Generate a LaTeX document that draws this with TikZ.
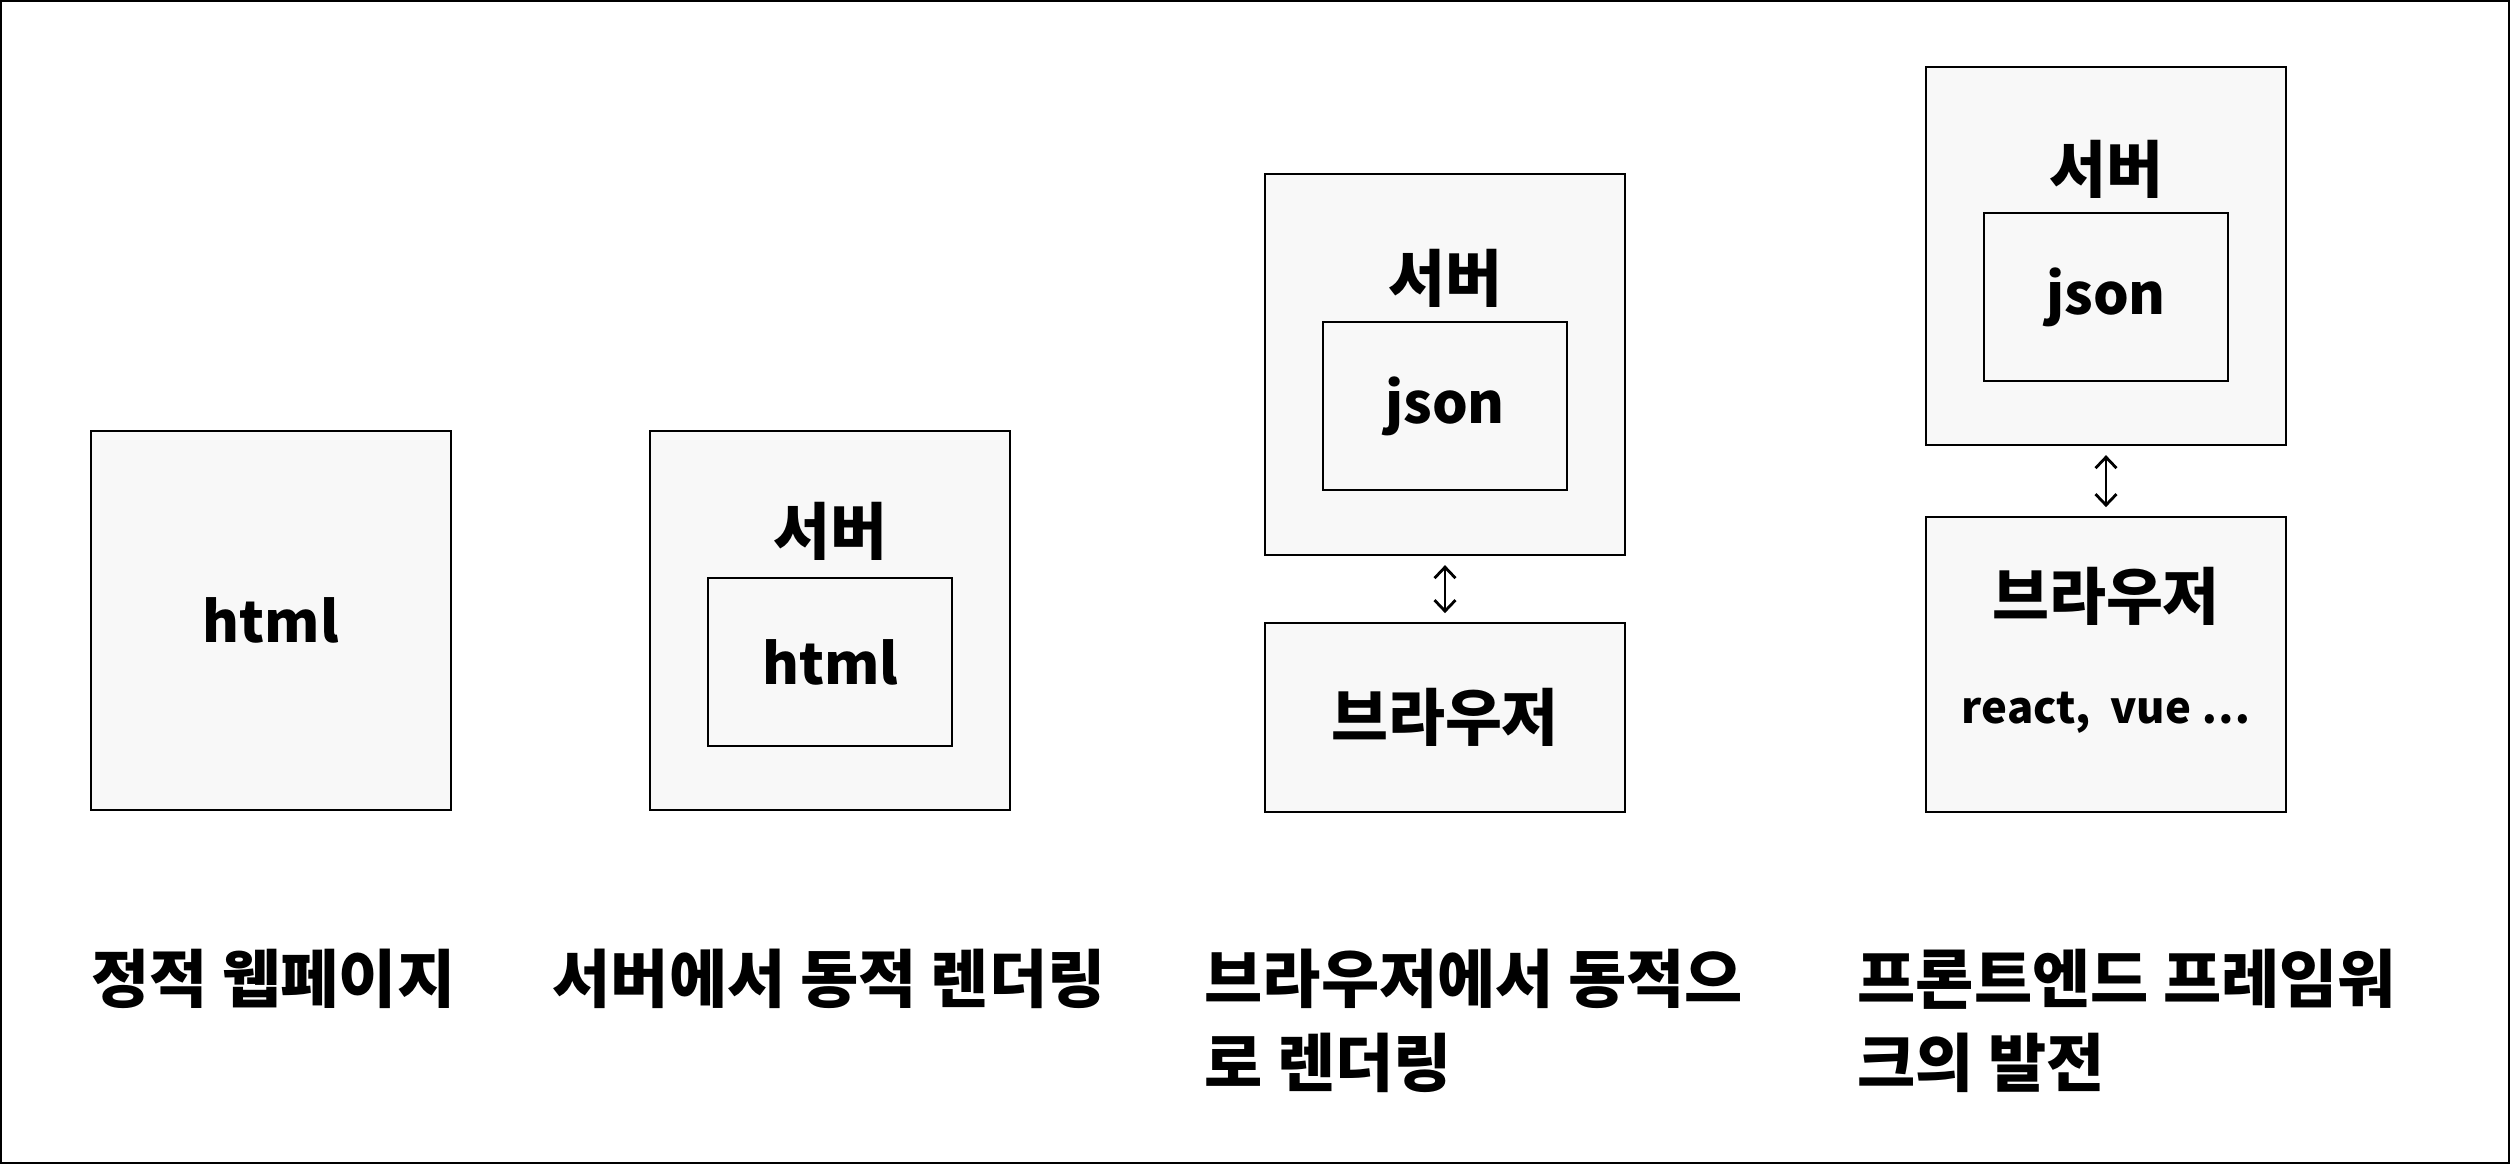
\documentclass[tikz,border=0pt]{standalone}
\usepackage{fontspec}
\setmainfont{Noto Sans CJK KR}
\usetikzlibrary{arrows.meta,positioning}
\definecolor{boxgray}{HTML}{F8F8F8}

\begin{document}
\begin{tikzpicture}[
    font=\bfseries\fontsize{16}{20}\selectfont,
    box/.style={draw=black, line width=0.65pt, fill=boxgray, minimum width=3.6cm, inner sep=0pt},
    inner/.style={box, minimum width=2.44cm, minimum height=1.68cm},
    kor/.style={inner sep=0pt, font=\bfseries\fontsize{17.6}{20}\selectfont},
    caption/.style={anchor=north west, inner sep=0pt, align=left,
      font=\bfseries\fontsize{18}{24}\selectfont},
    small/.style={inner sep=0pt, font=\bfseries\fontsize{12.4}{15}\selectfont},
    arrow/.style={{Straight Barb[length=1.1mm,width=2.1mm]}-{Straight Barb[length=1.1mm,width=2.1mm]},
      line width=0.8pt, shorten <=0.09cm, shorten >=0.09cm}
  ]
    \useasboundingbox (0,0) rectangle (25.1,-11.64);
    \draw[line width=0.65pt] (0.01,-0.01) rectangle (25.09,-11.63);

    \node[box, minimum height=3.79cm] (page) at (2.71,-6.205) {html};

    \node[box, minimum height=3.79cm, right=1.97cm of page] (srvA) {};
    \node[inner, above=0.64cm of srvA.south] (htmlA) {html};
    \node[kor] (srvAlbl) at ([yshift=-1.02cm]srvA.north) {서버};

    \node[box, minimum height=3.81cm] (srvB) at (14.45,-3.645) {};
    \node[inner, above=0.65cm of srvB.south] (jsonB) {json};
    \node[kor] (srvBlbl) at ([yshift=-1.06cm]srvB.north) {서버};
    \node[box, minimum height=1.89cm, below=0.66cm of srvB,
      font=\bfseries\fontsize{17.6}{20}\selectfont] (brwB) {브라우저};

    \node[box, minimum height=3.78cm] (srvC) at (21.06,-2.56) {};
    \node[inner, above=0.64cm of srvC.south] (jsonC) {json};
    \node[kor] (srvClbl) at ([yshift=-1.04cm]srvC.north) {서버};
    \node[box, minimum height=2.95cm, below=0.70cm of srvC] (brwC) {};
    \node[kor] (brwClbl) at ([yshift=-0.8cm]brwC.north) {브라우저};
    \node[small] (libs) at ([yshift=-1.97cm]brwC.north) {react,\ \ vue …};

    \draw[arrow] (srvB) -- (brwB);
    \draw[arrow] (srvC) -- (brwC);

    \node[caption] (capA) at (0.91,-9.48) {정적 웹페이지};
    \node[caption] (capB) at (5.52,-9.48) {서버에서 동적 렌더링};
    \node[caption] (capC) at (12.04,-9.48) {브라우저에서 동적으\\로 렌더링};
    \node[caption] (capD) at (18.57,-9.48) {프론트엔드 프레임워\\크의 발전};
  \end{tikzpicture}
\end{document}
